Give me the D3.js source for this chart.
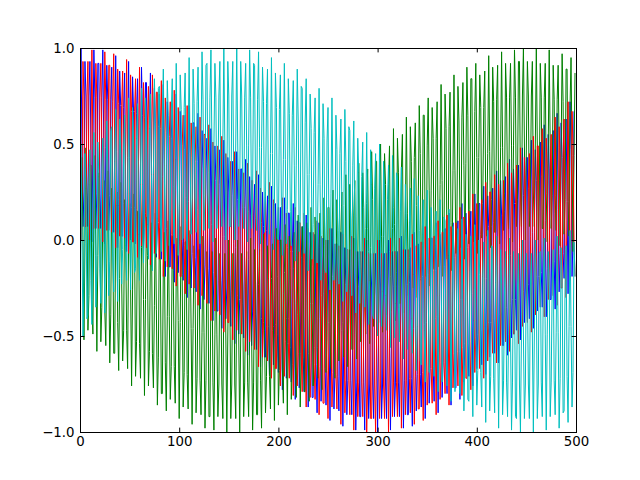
<!DOCTYPE html>
<html>
<head>
<meta charset="utf-8">
<script src="https://cdn.jsdelivr.net/npm/d3@7"></script>
<style>
  html, body { margin: 0; padding: 0; background: #ffffff; }
  svg { display: block; }
</style>
</head>
<body>
<svg id="chart" width="640" height="480"></svg>
<script>
// ---- data (x is the sample index 0..499) ----
const xTicks = [0, 100, 200, 300, 400, 500];
const yTicks = [-1, -0.5, 0, 0.5, 1];
const seriesNames = ["blue", "green", "red", "cyan"];

const blueValues = [
.5,1,.5,.07, .25,.93,.75,.25, .07,.75,.93,.5, -.01,.49,.99,.74, .06,.24,.92,.92, .24,.06,.74,.99, .48,-.02,.48,.91, .73,.05,.23,.73, .9,.22,.04,.47, .96,.46,-.04,.21,
.88,.7,.02,.02, .69,.87,.19,-.06, .43,.93,.43,0, .17,.85,.67,.17, -.02,.66,.84,.41, -.1,.4,.9,.65, -.04,.14,.82,.82, .12,-.06,.62,.87, .36,-.14,.36,.79, .59,-.09,.09,.59,
.76,.08,-.1,.33, .81,.31,-.19,.06, .72,.54,-.14,-.14, .53,.71,.03,-.22, .26,.76,.26,-.17, -.01,.67,.49,-.01, -.21,.47,.65,.22, -.3,.2,.7,.45, -.25,-.07,.61,.61, -.09,-.27,.41,.66,
.14,-.36,.14,.57, .37,-.31,-.13,.37, .53,-.15,-.33,.1, .58,.08,-.42,-.17, .49,.31,-.37,-.37, .29,.47,-.21,-.46, .02,.52,.02,-.41, -.25,.43,.25,-.25, -.45,.23,.41,-.02, -.54,-.04,.46,.21,
-.49,-.31,.37,.37, -.33,-.51,.17,.42, -.1,-.6,-.1,.33, .13,-.55,-.37,.13, .29,-.39,-.57,-.14, .34,-.16,-.66,-.41, .25,.07,-.61,-.61, .05,.23,-.45,-.7, -.22,.28,-.22,-.65, -.49,.19,.01,-.49,
-.69,-.01,.17,-.26, -.78,-.28,.22,-.03, -.72,-.54,.14,.14, -.56,-.74,-.06,.19, -.33,-.83,-.33,.1, -.09,-.77,-.59,-.09, .07,-.61,-.79,-.36, .13,-.37,-.87,-.62, .04,-.14,-.82,-.82, -.15,.03,-.65,-.9,
-.41,.09,-.41,-.84, -.67,.01,-.17,-.67, -.86,-.18,0,-.43, -.94,-.44,.06,-.19, -.88,-.7,-.02,-.02, -.71,-.89,-.21,.04, -.47,-.97,-.47,-.04, -.23,-.91,-.73,-.23, -.05,-.73,-.91,-.48, .01,-.49,-.99,-.74,
-.06,-.24,-.92,-.92, -.24,-.06,-.74,-.99, -.5,0,-.5,-.93, -.75,-.07,-.25,-.75, -.93,-.25,-.07,-.5, -1,-.5,0,-.25, -.93,-.75,-.07,-.07, -.75,-.93,-.25,0, -.49,-.99,-.49,-.06, -.24,-.92,-.74,-.24,
-.06,-.74,-.92,-.49, .02,-.48,-.98,-.73, -.05,-.23,-.91,-.91, -.22,-.04,-.72,-.97, -.46,.04,-.46,-.89, -.7,-.02,-.2,-.7, -.87,-.19,-.01,-.44, -.93,-.43,.07,-.18, -.85,-.67,.01,.01, -.66,-.84,-.16,.09,
-.4,-.9,-.4,.03, -.14,-.82,-.64,-.14, .06,-.62,-.8,-.37, .14,-.36,-.86,-.61, .09,-.09,-.77,-.77, -.08,.1,-.58,-.83, -.31,.19,-.31,-.74, -.54,.14,-.04,-.54, -.71,-.03,.15,-.28, -.76,-.26,.24,-.01,
-.67,-.49,.19,.19, -.47,-.65,.03,.28, -.2,-.7,-.2,.23, .07,-.61,-.43,.07, .27,-.41,-.59,-.16, .36,-.14,-.64,-.39, .31,.13,-.55,-.55, .15,.33,-.35,-.6, -.08,.42,-.08,-.51, -.31,.37,.19,-.31,
-.47,.21,.39,-.04, -.52,-.02,.48,.23, -.43,-.25,.43,.43, -.23,-.41,.27,.52, .04,-.46,.04,.47, .31,-.37,-.19,.31, .51,-.17,-.35,.08, .6,.1,-.4,-.15, .55,.37,-.31,-.31, .39,.57,-.11,-.36,
.16,.66,.16,-.27, -.07,.61,.43,-.07, -.2,.45,.63,.2, -.28,.22,.72,.47, -.19,.01,.67,.67
];

const greenValues = [
-.43,.25,.43,0, -.52,-.02,.48,.23, -.47,-.29,.39,.39, -.31,-.49,.19,.44, -.08,-.58,-.08,.35, .15,-.53,-.35,.15, .31,-.37,-.55,-.12, .36,-.14,-.64,-.39, .27,.09,-.59,-.59, .07,.25,-.43,-.68,
-.2,.3,-.2,-.63, -.47,.21,.03,-.47, -.67,.01,.19,-.24, -.76,-.26,.24,-.01, -.71,-.53,.15,.15, -.54,-.72,-.04,.21, -.31,-.81,-.31,.12, -.08,-.76,-.58,-.08, .09,-.59,-.77,-.34, .14,-.36,-.86,-.61,
.06,-.12,-.8,-.8, -.14,.04,-.64,-.89, -.4,.1,-.4,-.83, -.66,.02,-.16,-.66, -.85,-.17,.01,-.42, -.93,-.43,.07,-.18, -.87,-.69,-.01,-.01, -.7,-.88,-.2,.05, -.46,-.96,-.46,-.03, -.22,-.9,-.72,-.22,
-.05,-.73,-.91,-.48, .02,-.48,-.98,-.73, -.06,-.24,-.92,-.92, -.24,-.06,-.74,-.99, -.49,.01,-.49,-.92, -.75,-.07,-.25,-.75, -.93,-.25,-.07,-.5, -1,-.5,0,-.25, -.93,-.75,-.07,-.07, -.75,-.93,-.25,0,
-.5,-1,-.5,-.07, -.24,-.92,-.74,-.24, -.06,-.74,-.92,-.49, .01,-.49,-.99,-.74, -.05,-.23,-.91,-.91, -.23,-.05,-.73,-.98, -.47,.03,-.47,-.9, -.71,-.03,-.21,-.71, -.88,-.2,-.02,-.45, -.94,-.44,.06,-.19,
-.86,-.68,0,0, -.67,-.85,-.17,.08, -.41,-.91,-.41,.02, -.15,-.83,-.65,-.15, .04,-.64,-.82,-.39, .13,-.37,-.87,-.62, .07,-.11,-.79,-.79, -.09,.09,-.59,-.84, -.33,.17,-.33,-.76, -.56,.12,-.06,-.56,
-.72,-.04,.14,-.29, -.78,-.28,.22,-.03, -.69,-.51,.17,.17, -.49,-.67,.01,.26, -.22,-.72,-.22,.21, .05,-.63,-.45,.05, .25,-.43,-.61,-.18, .34,-.16,-.66,-.41, .29,.11,-.57,-.57, .13,.31,-.37,-.62,
-.1,.4,-.1,-.53, -.33,.35,.17,-.33, -.49,.19,.37,-.06, -.54,-.04,.46,.21, -.45,-.27,.41,.41, -.25,-.43,.25,.5, .02,-.48,.02,.45, .29,-.39,-.21,.29, .49,-.19,-.37,.06, .58,.08,-.42,-.17,
.53,.35,-.33,-.33, .37,.55,-.13,-.38, .14,.64,.14,-.29, -.09,.59,.41,-.09, -.25,.43,.61,.18, -.3,.2,.7,.45, -.21,-.03,.65,.65, -.01,-.19,.49,.74, .26,-.24,.26,.69, .53,-.15,.03,.53,
.72,.04,-.14,.29, .81,.31,-.19,.06, .76,.58,-.1,-.1, .59,.77,.09,-.16, .36,.86,.36,-.07, .12,.8,.62,.12, -.04,.64,.82,.39, -.1,.4,.9,.65, -.02,.16,.84,.84, .17,-.01,.67,.92,
.43,-.07,.43,.86, .69,.01,.19,.69, .88,.2,.02,.45, .96,.46,-.04,.21, .9,.72,.04,.04, .73,.91,.23,-.02, .48,.98,.48,.05, .24,.92,.74,.24, .06,.74,.92,.49, -.01,.49,.99,.74,
.07,.25,.93,.93, .25,.07,.75,1, .5,0,.5,.93, .75,.07,.25,.75, .93,.25,.07,.5, 1,.5,0,.25, .92,.74,.06,.06, .74,.92,.24,-.01, .49,.99,.49,.06, .23,.91,.73,.23,
.05,.73,.91,.48, -.03,.47,.97,.72, .03,.21,.89,.89, .2,.02,.7,.95, .44,-.06,.44,.87
];

const redValues = [
.5,0,.25,.93, .75,.07,.07,.75, .93,.25,0,.5, .99,.49,.06,.24, .92,.74,.24,.06, .74,.92,.49,-.01, .48,.98,.73,.05, .23,.91,.91,.23, .04,.72,.97,.47, -.04,.46,.89,.71,
.02,.2,.7,.88, .19,.01,.44,.94, .43,-.07,.18,.86, .67,-.01,-.01,.67, .84,.16,-.09,.41, .9,.4,-.03,.15, .82,.64,.14,-.04, .62,.8,.37,-.13, .36,.86,.61,-.07, .09,.77,.77,.09,
-.1,.58,.83,.33, -.19,.31,.74,.56, -.14,.04,.54,.72, .03,-.15,.28,.78, .26,-.24,.01,.69, .49,-.19,-.19,.49, .65,-.03,-.28,.22, .7,.2,-.23,-.05, .61,.43,-.07,-.25, .41,.59,.16,-.34,
.14,.64,.39,-.29, -.13,.55,.55,-.13, -.33,.35,.6,.1, -.42,.08,.51,.33, -.37,-.19,.31,.49, -.21,-.39,.04,.54, .02,-.48,-.23,.45, .25,-.43,-.43,.25, .41,-.27,-.52,-.02, .46,-.04,-.47,-.29,
.37,.19,-.31,-.49, .17,.35,-.08,-.58, -.1,.4,.15,-.53, -.37,.31,.31,-.37, -.57,.11,.36,-.14, -.66,-.16,.27,.09, -.61,-.43,.07,.25, -.45,-.63,-.2,.3, -.22,-.72,-.47,.21, .01,-.67,-.67,.01,
.17,-.51,-.76,-.26, .22,-.28,-.71,-.53, .14,-.04,-.54,-.72, -.06,.12,-.31,-.81, -.33,.17,-.08,-.76, -.59,.09,.09,-.59, -.79,-.11,.14,-.36, -.87,-.37,.06,-.12, -.82,-.64,-.14,.04, -.65,-.83,-.4,.1,
-.41,-.91,-.66,.02, -.17,-.85,-.85,-.17, 0,-.68,-.93,-.43, .06,-.44,-.87,-.69, -.02,-.2,-.7,-.88, -.21,-.03,-.46,-.96, -.47,.03,-.22,-.9, -.73,-.05,-.05,-.73, -.91,-.23,.02,-.48, -.99,-.49,-.06,-.24,
-.92,-.74,-.24,-.06, -.74,-.92,-.49,.01, -.5,-1,-.75,-.07, -.25,-.93,-.93,-.25, -.07,-.75,-1,-.5, 0,-.5,-.93,-.75, -.07,-.25,-.75,-.93, -.25,-.07,-.5,-1, -.49,.01,-.24,-.92, -.74,-.06,-.06,-.74,
-.92,-.24,.01,-.49, -.98,-.48,-.05,-.23, -.91,-.73,-.23,-.05, -.72,-.9,-.47,.03, -.46,-.96,-.71,-.03, -.2,-.88,-.88,-.2, -.01,-.69,-.94,-.44, .07,-.43,-.86,-.68, .01,-.17,-.67,-.85, -.16,.02,-.41,-.91,
-.4,.1,-.15,-.83, -.64,.04,.04,-.64, -.8,-.12,.13,-.37, -.86,-.36,.07,-.11, -.77,-.59,-.09,.09, -.58,-.76,-.33,.17, -.31,-.81,-.56,.12, -.04,-.72,-.72,-.04, .15,-.53,-.78,-.28, .24,-.26,-.69,-.51,
.19,.01,-.49,-.67, .03,.21,-.22,-.72, -.2,.3,.05,-.63, -.43,.25,.25,-.43, -.59,.09,.34,-.16, -.64,-.14,.29,.11, -.55,-.37,.13,.31, -.35,-.53,-.1,.4, -.08,-.58,-.33,.35, .19,-.49,-.49,.19,
.39,-.29,-.54,-.04, .48,-.02,-.45,-.27, .43,.25,-.25,-.43, .27,.45,.02,-.48, .04,.54,.29,-.39, -.19,.49,.49,-.19, -.35,.33,.58,.08, -.4,.1,.53,.35, -.31,-.13,.37,.55, -.11,-.29,.14,.64,
.16,-.34,-.09,.59, .43,-.25,-.25,.43, .63,-.05,-.3,.2, .72,.22,-.21,.03, .67,.49,-.01,-.19
];

const cyanValues = [
0,.5,0,-.5, -.23,.45,.27,-.41, -.39,.29,.47,-.21, -.44,.06,.56,.06, -.35,-.17,.51,.33, -.15,-.33,.35,.53, .12,-.38,.12,.62, .39,-.29,-.11,.57, .59,-.09,-.27,.41, .68,.18,-.32,.18,
.63,.45,-.23,-.05, .47,.65,-.03,-.21, .24,.74,.24,-.26, .01,.69,.51,-.17, -.15,.53,.71,.03, -.21,.29,.79,.29, -.12,.06,.74,.56, .08,-.1,.58,.76, .34,-.16,.34,.84, .61,-.07,.11,.79,
.8,.12,-.06,.62, .89,.39,-.11,.39, .83,.65,-.03,.15, .66,.84,.16,-.02, .42,.92,.42,-.08, .18,.86,.68,0, .01,.69,.87,.19, -.05,.45,.95,.45, .03,.21,.89,.71, .22,.04,.72,.9,
.48,-.02,.48,.98, .73,.05,.23,.91, .92,.24,.06,.74, .99,.49,-.01,.49, .92,.74,.06,.24, .75,.93,.25,.07, .5,1,.5,0, .25,.93,.75,.07, .07,.75,.93,.25, 0,.5,1,.5,
.07,.25,.93,.75, .24,.06,.74,.92, .49,-.01,.49,.99, .74,.06,.24,.92, .91,.23,.05,.73, .98,.48,-.02,.48, .9,.72,.04,.22, .71,.89,.21,.03, .45,.95,.45,-.05, .19,.87,.69,.01,
0,.68,.86,.18, -.08,.42,.92,.42, -.02,.16,.84,.66, .15,-.03,.65,.83, .39,-.11,.39,.89, .62,-.06,.12,.8, .79,.11,-.07,.61, .84,.34,-.16,.34, .76,.58,-.1,.08, .56,.74,.06,-.12,
.29,.79,.29,-.21, .03,.71,.53,-.15, -.17,.51,.69,.01, -.26,.24,.74,.24, -.21,-.03,.65,.47, -.05,-.23,.45,.63, .18,-.32,.18,.68, .41,-.27,-.09,.59, .57,-.11,-.29,.39, .62,.12,-.38,.12,
.53,.35,-.33,-.15, .33,.51,-.17,-.35, .06,.56,.06,-.44, -.21,.47,.29,-.39, -.41,.27,.45,-.23, -.5,0,.5,0, -.45,-.27,.41,.23, -.29,-.47,.21,.39, -.06,-.56,-.06,.44, .17,-.51,-.33,.35,
.33,-.35,-.53,.15, .38,-.12,-.62,-.12, .29,.11,-.57,-.39, .09,.27,-.41,-.59, -.18,.32,-.18,-.68, -.45,.23,.05,-.63, -.65,.03,.21,-.47, -.74,-.24,.26,-.24, -.69,-.51,.17,-.01, -.53,-.71,-.03,.15,
-.29,-.79,-.29,.21, -.06,-.74,-.56,.12, .1,-.58,-.76,-.08, .16,-.34,-.84,-.34, .07,-.11,-.79,-.61, -.12,.06,-.62,-.8, -.39,.11,-.39,-.89, -.65,.03,-.15,-.83, -.84,-.16,.02,-.66, -.92,-.42,.08,-.42,
-.86,-.68,0,-.18, -.69,-.87,-.19,-.01, -.45,-.95,-.45,.05, -.21,-.89,-.71,-.03, -.04,-.72,-.9,-.22, .02,-.48,-.98,-.48, -.05,-.23,-.91,-.73, -.24,-.06,-.74,-.92, -.49,.01,-.49,-.99, -.74,-.06,-.24,-.92,
-.93,-.25,-.07,-.75, -1,-.5,0,-.5, -.93,-.75,-.07,-.25, -.75,-.93,-.25,-.07, -.5,-1,-.5,0, -.25,-.93,-.75,-.07, -.06,-.74,-.92,-.24, .01,-.49,-.99,-.49, -.06,-.24,-.92,-.74, -.23,-.05,-.73,-.91,
-.48,.02,-.48,-.98, -.72,-.04,-.22,-.9, -.89,-.21,-.03,-.71, -.95,-.45,.05,-.45, -.87,-.69,-.01,-.19
];

const seriesColors = ["#0000ff", "#008000", "#ff0000", "#00bfbf"];
const seriesValues = [blueValues, greenValues, redValues, cyanValues];

// ---- layout ----
const W = 640, H = 480;
const L = 80, R = 576, T = 48, B = 432;
const fontFamily = "'DejaVu Sans', 'Bitstream Vera Sans', sans-serif";
const fontSize = "13.33px";

const svg = d3.select("#chart");
svg.append("rect").attr("x", 0).attr("y", 0).attr("width", W).attr("height", H).attr("fill", "#ffffff");

const x = d3.scaleLinear().domain([0, 500]).range([L, R]);
const y = d3.scaleLinear().domain([-1, 1]).range([B, T]);

svg.append("defs").append("clipPath").attr("id", "plotclip")
  .append("rect").attr("x", L).attr("y", T).attr("width", R - L).attr("height", B - T);

const line = d3.line().x((d, i) => x(i)).y(d => y(d));

const plot = svg.append("g").attr("clip-path", "url(#plotclip)");
seriesValues.forEach((vals, k) => {
  plot.append("path")
    .datum(vals)
    .attr("class", "series " + seriesNames[k])
    .attr("d", line)
    .attr("fill", "none")
    .attr("stroke", seriesColors[k])
    .attr("stroke-width", 1.0)
    .attr("stroke-linejoin", "round")
    .attr("stroke-linecap", "butt");
});

// ---- axes (ticks point inward, on all four sides) ----
const tickLen = -4.4;
function styleAxis(g) {
  g.select(".domain").remove();
  g.selectAll(".tick line").attr("stroke", "#000").attr("stroke-width", 1);
  g.selectAll(".tick text").attr("fill", "#000")
    .style("font-family", fontFamily).style("font-size", fontSize);
}

svg.append("g").attr("transform", `translate(0,${B})`)
  .call(d3.axisBottom(x).tickValues(xTicks).tickSizeInner(tickLen).tickSizeOuter(0)
    .tickPadding(5).tickFormat(d3.format("d")))
  .call(styleAxis);

svg.append("g").attr("transform", `translate(0,${T})`)
  .call(d3.axisTop(x).tickValues(xTicks).tickSizeInner(tickLen).tickSizeOuter(0).tickFormat(""))
  .call(styleAxis);

svg.append("g").attr("transform", `translate(${L},0)`)
  .call(d3.axisLeft(y).tickValues(yTicks).tickSizeInner(tickLen).tickSizeOuter(0)
    .tickPadding(5.5).tickFormat(d3.format(".1f")))
  .call(styleAxis);

svg.append("g").attr("transform", `translate(${R},0)`)
  .call(d3.axisRight(y).tickValues(yTicks).tickSizeInner(tickLen).tickSizeOuter(0).tickFormat(""))
  .call(styleAxis);

// ---- axes frame ----
svg.append("rect")
  .attr("x", L).attr("y", T).attr("width", R - L).attr("height", B - T)
  .attr("fill", "none").attr("stroke", "#000").attr("stroke-width", 1)
  .attr("shape-rendering", "crispEdges");
</script>
</body>
</html>
